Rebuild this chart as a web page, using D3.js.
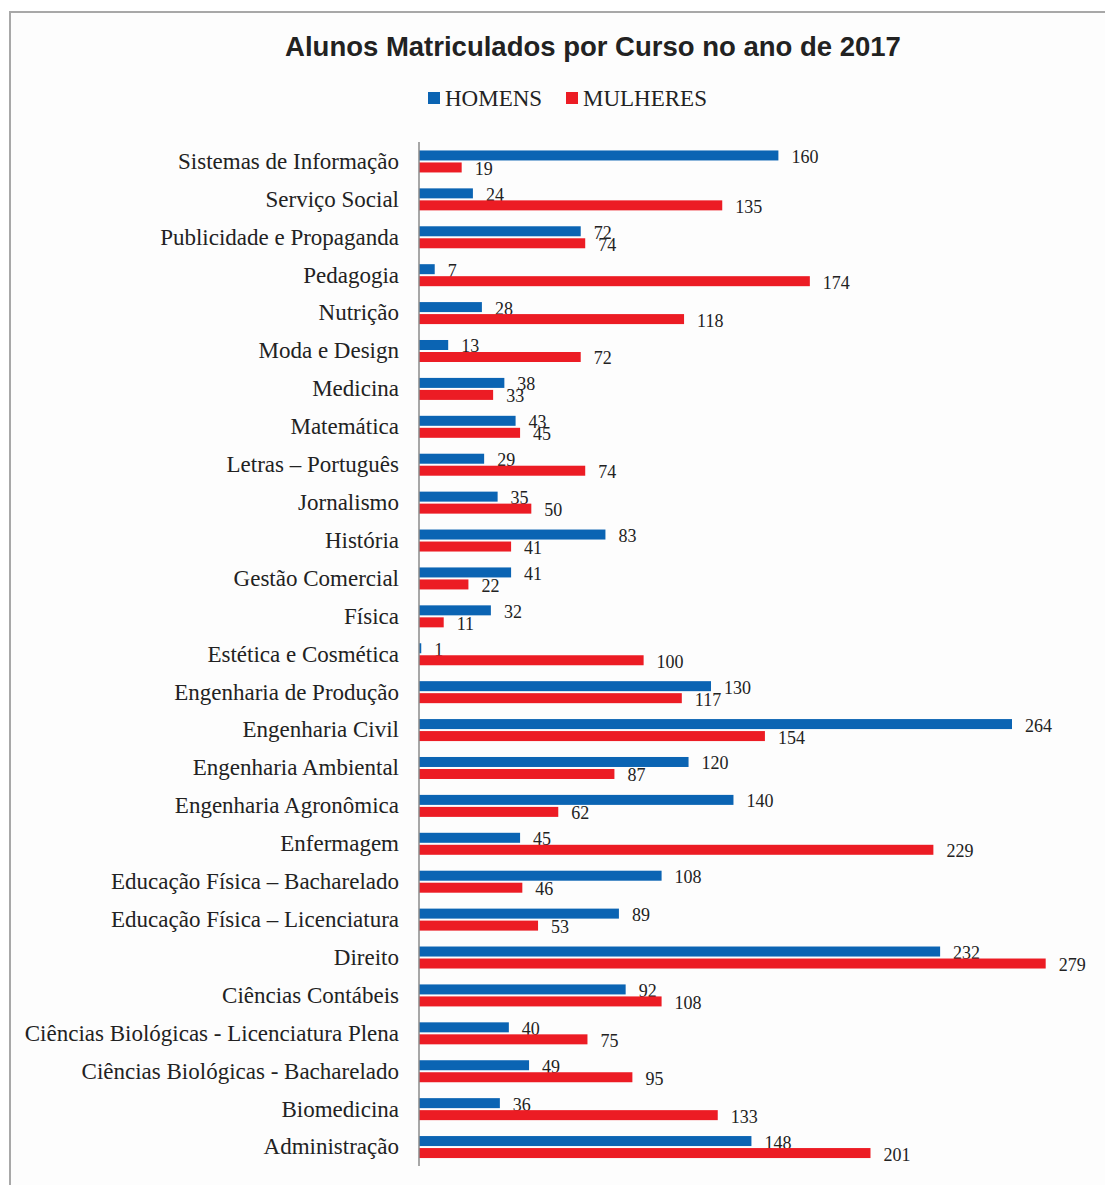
<!DOCTYPE html>
<html>
<head>
<meta charset="utf-8">
<script src="https://cdn.jsdelivr.net/npm/d3@7"></script>
<style>
  body { margin: 0; background: #fff; }
  #chart svg { display: block; }
  .cat { font-family: "Liberation Serif", "Times New Roman", serif; font-size: 23px; fill: #222; }
  .val { font-family: "Liberation Serif", "Times New Roman", serif; font-size: 18px; fill: #222; }
</style>
</head>
<body>
<div id="chart"></div>
<script>
(function () {

  const courses = [
    "Sistemas de Informação", "Serviço Social", "Publicidade e Propaganda", "Pedagogia",
    "Nutrição", "Moda e Design", "Medicina", "Matemática", "Letras – Português",
    "Jornalismo", "História", "Gestão Comercial", "Física", "Estética e Cosmética",
    "Engenharia de Produção", "Engenharia Civil", "Engenharia Ambiental",
    "Engenharia Agronômica", "Enfermagem", "Educação Física – Bacharelado",
    "Educação Física – Licenciatura", "Direito", "Ciências Contábeis",
    "Ciências Biológicas - Licenciatura Plena", "Ciências Biológicas - Bacharelado",
    "Biomedicina", "Administração"
  ]
  const homens = [160, 24, 72, 7, 28, 13, 38, 43, 29, 35, 83, 41, 32, 1, 130, 264, 120, 140, 45, 108, 89, 232, 92, 40, 49, 36, 148]
  const mulheres = [19, 135, 74, 174, 118, 72, 33, 45, 74, 50, 41, 22, 11, 100, 117, 154, 87, 62, 229, 46, 53, 279, 108, 75, 95, 133, 201]
  const seriesNames = ["HOMENS", "MULHERES"]
  const colors = ["#0b64b3", "#ec1c24"]

  const W = 1105, H = 1185
  const svg = d3.select("#chart").append("svg")
      .attr("width", W)
      .attr("height", H)

  // outer frame (runs off the right and bottom of the picture)
  svg.append("rect")
      .attr("x", 10).attr("y", 12)
      .attr("width", W + 20).attr("height", H + 20)
      .attr("fill", "#fdfdfd")
      .attr("stroke", "#a8a8a8")
      .attr("stroke-width", 2)

  svg.append("text")
      .attr("x", 593)
      .attr("y", 56)
      .attr("text-anchor", "middle")
      .style("font-family", "'Liberation Sans', Arial, sans-serif")
      .style("font-weight", "bold")
      .style("font-size", "27.5px")
      .style("fill", "#222")
      .text("Alunos Matriculados por Curso no ano de 2017")

  // legend
  const legendX = [428, 566]
  const legend = svg.append("g")
  seriesNames.forEach((name, i) => {
    legend.append("rect")
      .attr("x", legendX[i]).attr("y", 92)
      .attr("width", 12).attr("height", 12)
      .attr("fill", colors[i])
    legend.append("text")
      .attr("class", "cat")
      .attr("x", legendX[i] + 17)
      .attr("y", 106)
      .text(name)
  })

  const x = d3.scaleLinear()
    .domain([0, 264])
    .range([419, 1012])

  const y = d3.scaleBand()
    .domain(courses)
    .range([142.5, 1166])
    .paddingInner(0.42)
    .paddingOuter(0.21)

  const barH = 10

  const rows = courses.map((c, i) => ({ course: c, values: [homens[i], mulheres[i]] }))

  const g = svg.append("g")

  rows.forEach(row => {
    const top = y(row.course)
    row.values.forEach((v, k) => {
      const by = top + k * (barH + 2)
      g.append("rect")
        .attr("x", x(0))
        .attr("y", by)
        .attr("width", Math.max(x(v) - x(0), 1.5))
        .attr("height", barH)
        .attr("fill", colors[k])
      g.append("text")
        .attr("class", "val")
        .attr("x", x(v) + 13)
        .attr("y", by + barH / 2 + 7.5)
        .text(v)
    })
  })

  // category labels
  const yAxis = d3.axisLeft(y).tickSize(0).tickPadding(20)
  const ax = svg.append("g")
    .attr("transform", "translate(" + x(0) + ",0)")
    .call(yAxis)
  ax.select(".domain").remove()
  ax.selectAll("text")
    .attr("class", "cat")
    .attr("dy", "0.32em")
  ax.attr("font-size", null).attr("font-family", null)

  svg.append("line")
    .attr("x1", x(0)).attr("x2", x(0))
    .attr("y1", 142).attr("y2", 1166)
    .attr("stroke", "#8a8a8a")
    .attr("stroke-width", 1.5)

})();
</script>
</body>
</html>
